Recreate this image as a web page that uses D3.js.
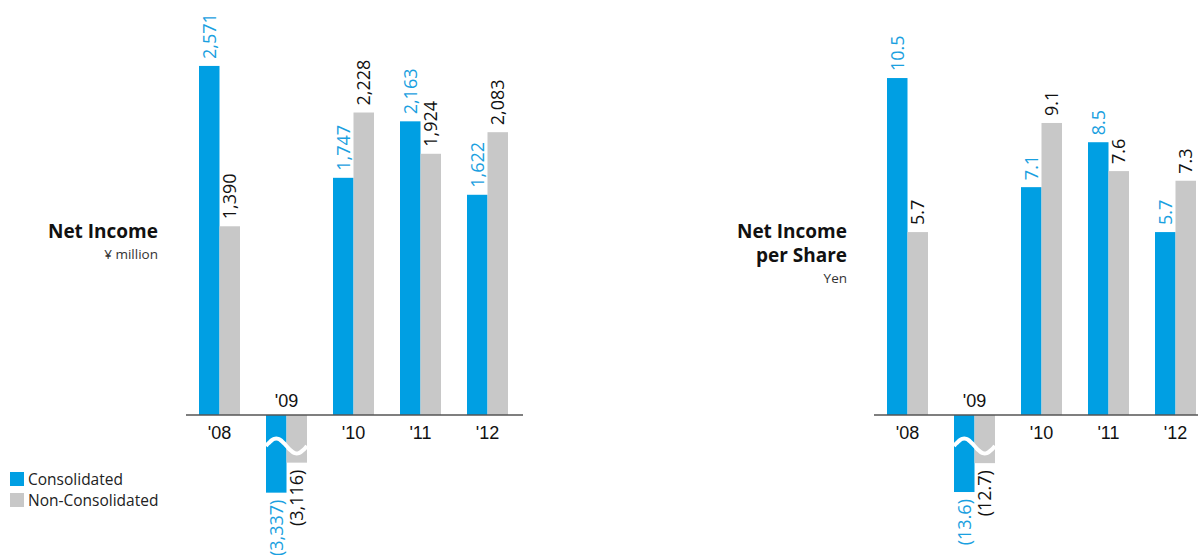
<!DOCTYPE html>
<html>
<head>
<meta charset="utf-8">
<script src="https://cdn.jsdelivr.net/npm/d3@7"></script>
<style>
  body { margin: 0; background: #fff; }
  svg { display: block; font-family: "Open Sans", "Noto Sans", sans-serif; }
</style>
</head>
<body>
<svg id="chart" width="1198" height="555"></svg>
<script>
const years = ["'08", "'09", "'10", "'11", "'12"];
const series = ['Consolidated', 'Non-Consolidated'];

const netIncomeConsolidated = [2571, -3337, 1747, 2163, 1622];
const netIncomeNonConsolidated = [1390, -3116, 2228, 1924, 2083];
const netIncomeLabels = [['2,571', '1,390'], ['(3,337)', '(3,116)'], ['1,747', '2,228'], ['2,163', '1,924'], ['1,622', '2,083']];

const epsConsolidated = [10.5, -13.6, 7.1, 8.5, 5.7];
const epsNonConsolidated = [5.7, -12.7, 9.1, 7.6, 7.3];
const epsLabels = [['10.5', '5.7'], ['(13.6)', '(12.7)'], ['7.1', '9.1'], ['8.5', '7.6'], ['5.7', '7.3']];

const BLUE = '#009fe3';
const GRAY = '#c8c8c8';
const BASE = 415;

const svg = d3.select('#chart');

function drawPanel(opts) {
  const { left, yMax, breakGap, cons, nonCons, labels, titleX, titleLines, unit } = opts;

  const x = d3.scaleBand().domain(years).range([left, left + 309]).paddingInner(26 / 67).paddingOuter(0);
  const xs = d3.scaleBand().domain(series).range([0, x.bandwidth()]);
  const y = d3.scaleLinear().domain([0, yMax]).range([BASE, 62]);

  // negative values are drawn across an axis break that removes breakGap units
  const shown = v => v < 0 ? v + breakGap : v;

  const rows = years.map((yr, i) => ({ yr, i, vals: [cons[i], nonCons[i]] }));
  const g = svg.append('g');

  const groups = g.selectAll('g.year').data(rows).join('g')
    .attr('class', 'year')
    .attr('transform', d => `translate(${x(d.yr)},0)`);

  groups.selectAll('rect').data(d => d.vals.map((v, k) => ({ v, k, lab: labels[d.i][k] }))).join('rect')
    .attr('x', d => xs(series[d.k]))
    .attr('width', xs.bandwidth())
    .attr('y', d => d.v >= 0 ? y(d.v) : BASE)
    .attr('height', d => Math.abs(y(shown(d.v)) - BASE))
    .attr('fill', d => d.k === 0 ? BLUE : GRAY);

  groups.selectAll('text.val').data(d => d.vals.map((v, k) => ({ v, k, lab: labels[d.i][k] }))).join('text')
    .attr('class', 'val')
    .attr('text-anchor', d => d.v >= 0 ? 'start' : 'end')
    .attr('transform', d => {
      const cx = xs(series[d.k]) + xs.bandwidth() / 2 + 6.3;
      const ty = d.v >= 0 ? y(d.v) - 7 : y(shown(d.v)) + 7;
      return `translate(${cx},${ty}) rotate(-90)`;
    })
    .attr('font-size', 18)
    .attr('fill', d => d.k === 0 ? '#1aa0e0' : '#111')
    .text(d => d.lab);

  // wavy break across negative bars
  const bw = x.bandwidth();
  const waveY = BASE + 29;
  const wave = d3.line().curve(d3.curveBasis)
    .x(t => t * bw)
    .y(t => waveY + 2 - 7.5 * Math.sin(2 * Math.PI * t));
  groups.filter(d => d.vals[0] < 0).append('path')
    .attr('d', wave(d3.range(0, 1.001, 0.05)))
    .attr('fill', 'none')
    .attr('stroke', '#fff')
    .attr('stroke-width', 4);

  // baseline
  g.append('line')
    .attr('x1', left - 13).attr('x2', left + 309 + 15)
    .attr('y1', BASE).attr('y2', BASE)
    .attr('stroke', '#555').attr('stroke-width', 1.5);

  // year labels
  const axis = g.append('g')
    .attr('transform', `translate(0,${BASE})`)
    .call(d3.axisBottom(x).tickSize(0).tickPadding(0));
  axis.select('.domain').remove();
  axis.selectAll('text')
    .attr('font-family', null)
    .attr('font-size', 18)
    .attr('fill', '#111')
    .attr('dy', null)
    .attr('y', (d, i) => cons[i] < 0 ? -8 : 24);

  // title
  const t = g.append('g').attr('text-anchor', 'end').attr('fill', '#111');
  titleLines.forEach((line, i) => {
    t.append('text').attr('x', titleX).attr('y', 238 + i * 24)
      .attr('font-size', 19).attr('font-weight', 'bold').text(line);
  });
  t.append('text').attr('x', titleX).attr('y', 238 + (titleLines.length - 1) * 24 + 21)
    .attr('font-size', 13.5).attr('fill', '#333').text(unit);
}

drawPanel({
  left: 199, yMax: 2600, breakGap: 2765,
  cons: netIncomeConsolidated, nonCons: netIncomeNonConsolidated, labels: netIncomeLabels,
  titleX: 158, titleLines: ['Net Income'], unit: '¥ million'
});

drawPanel({
  left: 887, yMax: 11, breakGap: 11.2,
  cons: epsConsolidated, nonCons: epsNonConsolidated, labels: epsLabels,
  titleX: 847, titleLines: ['Net Income', 'per Share'], unit: 'Yen'
});

// legend
const legend = svg.append('g').selectAll('g').data(series).join('g')
  .attr('transform', (d, i) => `translate(10,${472 + i * 21})`);
legend.append('rect').attr('width', 14).attr('height', 14)
  .attr('fill', (d, i) => i === 0 ? BLUE : GRAY);
legend.append('text').attr('x', 18).attr('y', 12.5)
  .attr('font-size', 15.5).attr('fill', '#222').text(d => d);
</script>
</body>
</html>
